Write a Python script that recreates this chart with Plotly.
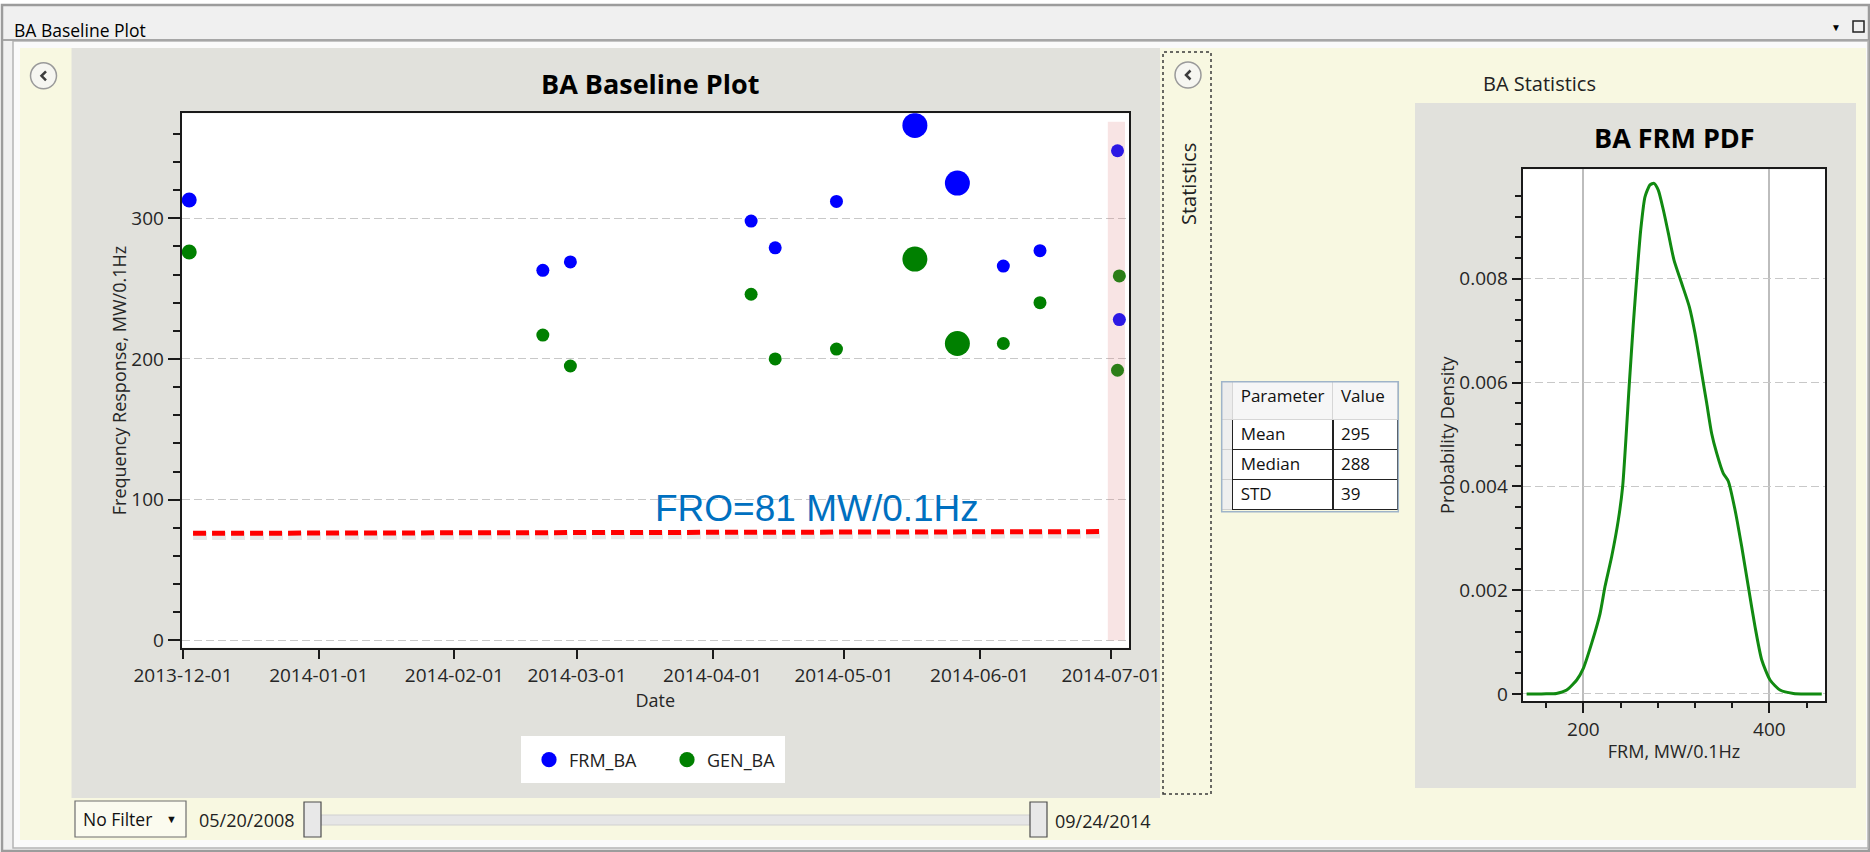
import plotly.graph_objects as go

W, H = 1870, 852


def px(x):
    return x / W


def py(y):
    return 1 - y / H


# ---------------- data ----------------
frm_dates = ["2013-12-02 10:00", "2014-02-21 05:00", "2014-02-27 12:00", "2014-04-09 19:00",
             "2014-04-15 07:00", "2014-04-29 07:00", "2014-05-17 05:00", "2014-05-26 22:00",
             "2014-06-06 10:00", "2014-06-14 19:00", "2014-07-02 12:00", "2014-07-02 22:00"]
frm_values = [313, 263, 269, 298, 279, 312, 366, 325, 266, 277, 348, 228]

gen_dates = ["2013-12-02 10:00", "2014-02-21 05:00", "2014-02-27 12:00", "2014-04-09 19:00",
             "2014-04-15 07:00", "2014-04-29 07:00", "2014-05-17 05:00", "2014-05-26 22:00",
             "2014-06-06 10:00", "2014-06-14 19:00", "2014-07-02 22:00", "2014-07-02 12:00"]
gen_values = [276, 217, 195, 246, 200, 207, 271, 211, 211, 240, 259, 192]

event_sizes = [15, 13, 13, 13, 13, 13, 25, 25, 13, 13, 13, 13]

fro_dates = ["2013-12-03 07:00", "2014-06-28 17:00"]
fro_values = [76.1, 77.3]
fro_label = "FRO=81 MW/0.1Hz"

month_ticks = ["2013-12-01", "2014-01-01", "2014-02-01", "2014-03-01",
               "2014-04-01", "2014-05-01", "2014-06-01", "2014-07-01"]

pdf_x = [139, 150, 160, 171, 182.2, 192.9, 200, 209, 218, 223.3, 230.5, 237.6, 242.3,
         249.5, 253.8, 258.1, 261.7, 266.3, 271.7, 276, 280.6, 286, 291.4, 297.5, 305.8,
         314, 320.1, 327.3, 332.7, 338, 343.4, 350.5, 355.9, 363.1, 370.3, 377.4, 384.6,
         391.8, 400.8, 411.5, 425.9, 440, 456.4]
pdf_y = [0, 0, 0.000003, 0.00001, 0.000077, 0.00027, 0.000495, 0.00098, 0.00155, 0.00207,
         0.00265, 0.00335, 0.0040, 0.00599, 0.00714, 0.00817, 0.00894, 0.00958, 0.00981,
         0.00984, 0.00971, 0.00933, 0.00888, 0.00836, 0.00791, 0.00746, 0.00695, 0.00618,
         0.0056, 0.00502, 0.00464, 0.00425, 0.00410, 0.00355, 0.00284, 0.00207, 0.0013,
         0.00066, 0.00027, 0.000077, 0.00001, 0, 0]

pdf_major_ticks = [0, 0.002, 0.004, 0.006, 0.008]
pdf_major_text = ["0", "0.002", "0.004", "0.006", "0.008"]
pdf_minor_ticks = [round(0.0004 * k, 4) for k in range(1, 25)]

stat_params = ["Mean", "Median", "STD"]
stat_values = ["295", "288", "39"]

start_date_label = "05/20/2008"
end_date_label = "09/24/2014"

FONT = "Segoe UI, Open Sans, sans-serif"
TICKC = "#1a1a1a"

fig = go.Figure()

# ---------------- traces ----------------
fig.add_trace(go.Scatter(
    x=frm_dates, y=frm_values, mode="markers", name="FRM_BA",
    marker=dict(color="#0000FF", size=event_sizes, opacity=1, line=dict(width=0)),
    xaxis="x", yaxis="y"))
fig.add_trace(go.Scatter(
    x=gen_dates, y=gen_values, mode="markers", name="GEN_BA",
    marker=dict(color="#008000", size=event_sizes, opacity=1, line=dict(width=0)),
    xaxis="x", yaxis="y"))
# soft shadow of FRO line
fig.add_trace(go.Scatter(
    x=fro_dates, y=[v - 2.0 for v in fro_values], mode="lines", showlegend=False,
    line=dict(color="rgba(0,0,0,0.09)", width=8, dash="14px,5px"),
    xaxis="x", yaxis="y"))
fig.add_trace(go.Scatter(
    x=fro_dates, y=fro_values, mode="lines", showlegend=False,
    line=dict(color="#FF0000", width=5, dash="13px,6px"),
    xaxis="x", yaxis="y"))
# PDF
fig.add_trace(go.Scatter(
    x=pdf_x, y=pdf_y, mode="lines", showlegend=False,
    line=dict(color="#118A11", width=3, shape="spline", smoothing=0.6),
    xaxis="x2", yaxis="y2"))

# statistics table
fig.add_trace(go.Table(
    domain=dict(x=[px(1221.7), px(1398.3)], y=[py(540), py(381.7)]),
    columnwidth=[11, 100.6, 65],
    header=dict(values=["", "Parameter", "Value"], height=38,
                fill_color=["#ECECEC", "#F6F6F6", "#F6F6F6"],
                line=dict(color="#D6D6D6", width=1),
                align="left", font=dict(family=FONT, size=17, color="#111")),
    cells=dict(values=[["", "", ""], stat_params, stat_values], height=30,
               fill_color=["#EFEFEF", "#FFFFFF", "#FFFFFF"],
               line=dict(color=["#D0D0D0", "#222222", "#222222"], width=1.5),
               align="left", font=dict(family=FONT, size=17, color="#111")),
))

# ---------------- shapes ----------------
shapes = []


def rect(x0, y0, x1, y1, fill=None, line_color=None, lw=0, dash=None, layer="below"):
    d = dict(type="rect", xref="paper", yref="paper",
             x0=px(x0), x1=px(x1), y0=py(y1), y1=py(y0), layer=layer,
             line=dict(width=lw, color=line_color or "rgba(0,0,0,0)"))
    if dash:
        d["line"]["dash"] = dash
    if fill:
        d["fillcolor"] = fill
    shapes.append(d)


rect(2, 5, 1869, 851, fill="#F0F0F0", line_color="#9C9C9C", lw=2.5)
rect(13, 41, 1868, 848, fill="#FAFAFA", line_color="#B4B4B4", lw=1.5)
shapes.append(dict(type="line", xref="paper", yref="paper", x0=px(3), x1=px(1868),
                   y0=py(40), y1=py(40), line=dict(color="#A6A6A6", width=2), layer="below"))
rect(20, 48, 1866, 840, fill="#F8F8E1")
rect(71.5, 48, 1160, 798, fill="#E1E1DC")
rect(181.5, 113.3, 1129, 647.7, fill="#FFFFFF")
rect(1163, 52, 1211, 794, line_color="#3A3A3A", lw=1.5, dash="dot")
rect(1415, 103, 1856, 788, fill="#E1E1DC")
rect(1522.7, 169.3, 1825.3, 701, fill="#FFFFFF")
rect(521, 736, 785, 783, fill="#FFFFFF")
# bottom filter controls
rect(75, 801, 186, 837, fill="#FBFBEF", line_color="#6E6E6E", lw=1.2)
rect(321, 815, 1030, 825, fill="#E6E6E6", line_color="#D0D0D0", lw=1)
rect(304, 802, 321, 837, fill="#E8E8E8", line_color="#4D4D4D", lw=1.2)
rect(1030, 802, 1047, 837, fill="#E8E8E8", line_color="#4D4D4D", lw=1.2)
# window maximize icon
rect(1853, 21, 1864, 32, line_color="#222222", lw=1.5)

# collapse buttons
for cx, cy in [(43.5, 75.8), (1188, 75)]:
    shapes.append(dict(type="circle", xref="paper", yref="paper",
                       x0=px(cx - 13), x1=px(cx + 13), y0=py(cy + 13), y1=py(cy - 13),
                       fillcolor="#F6F6F1", line=dict(color="#9A9A9A", width=1.5), layer="below"))
    shapes.append(dict(type="path", xref="paper", yref="paper", layer="below",
                       path=f"M {px(cx + 2.5)},{py(cy - 4.5)} L {px(cx - 2)},{py(cy)} L {px(cx + 2.5)},{py(cy + 4.5)}",
                       line=dict(color="#3C3C3C", width=2.5)))

# highlighted band (data coordinates)
shapes.append(dict(type="rect", xref="x", yref="y", x0="2014-06-30 07:00", x1="2014-07-04 05:00",
                   y0=0, y1=368.6, fillcolor="rgba(220,120,120,0.2)", line=dict(width=0),
                   layer="above"))
# table outer border
rect(1221.7, 381.7, 1398.3, 511.7, line_color="#9FB4C9", lw=1.5, layer="above")

# ---------------- annotations ----------------
ann = []


def text(x, y, s, size, xanchor="center", bold=False, color="#000000", angle=0, family=FONT):
    ann.append(dict(x=px(x), y=py(y), xref="paper", yref="paper", text=s, showarrow=False,
                    xanchor=xanchor, yanchor="middle", textangle=angle,
                    font=dict(family=family, size=size, color=color,
                              weight="bold" if bold else "normal")))


text(12, 30, "BA Baseline Plot", 17.5, xanchor="left")
text(1836, 27, "▼", 10)
text(650, 83, "BA Baseline Plot", 27, bold=True)
text(1188, 184, "Statistics", 20, angle=-90, color="#222")
text(1539, 83, "BA Statistics", 20, color="#222")
text(1674, 137, "BA FRM PDF", 27, bold=True)
text(81, 819, "No Filter", 17.5, xanchor="left", color="#111")
text(171, 818, "▼", 11, color="#111")
text(197, 820, start_date_label, 18, xanchor="left", color="#222")
text(1053, 820.5, end_date_label, 18, xanchor="left", color="#222")

ann.append(dict(x="2014-04-24 19:00", y=93.4, xref="x", yref="y", text=fro_label,
                showarrow=False, xanchor="center", yanchor="middle",
                font=dict(family="Liberation Sans, Arial, sans-serif", size=37, color="#0070C0")))

# ---------------- layout ----------------
axis_common = dict(ticks="outside", tickcolor=TICKC, tickwidth=2, showline=True,
                   linecolor=TICKC, linewidth=1.5, mirror=True, zeroline=False,
                   automargin=False,
                   tickfont=dict(family=FONT, size=19, color="#262626"))

fig.update_layout(
    template="none",
    width=W, height=H, autosize=False,
    margin=dict(l=0, r=0, t=0, b=0, pad=0, autoexpand=False),
    paper_bgcolor="#FFFFFF", plot_bgcolor="rgba(0,0,0,0)",
    font=dict(family=FONT, color="#262626"),
    hovermode=False,
    showlegend=True,
    legend=dict(orientation="h", x=px(529), y=py(760), xanchor="left", yanchor="middle",
                bgcolor="rgba(0,0,0,0)", borderwidth=0,
                font=dict(family=FONT, size=18, color="#222"),
                entrywidth=93, itemsizing="trace"),
    xaxis=dict(domain=[px(181.5), px(1129)], anchor="y", type="date",
               range=["2013-11-30 15:45", "2014-07-05 03:00"],
               tickvals=month_ticks, ticktext=month_ticks, ticklen=10, showgrid=False,
               title=dict(text="Date", standoff=7, font=dict(family=FONT, size=18, color="#262626")),
               **axis_common),
    yaxis=dict(domain=[py(647.7), py(113.3)], anchor="x", range=[-5.2, 374.6],
               tick0=0, dtick=100, ticklen=12, showgrid=True, gridcolor="#C8C8C8",
               griddash="8px,4px", gridwidth=1,
               minor=dict(dtick=20, tick0=0, ticks="outside", ticklen=7, tickwidth=1.5,
                          tickcolor=TICKC, showgrid=False),
               title=dict(text="Frequency Response, MW/0.1Hz", standoff=0,
                          font=dict(family=FONT, size=18, color="#262626")),
               **axis_common),
    xaxis2=dict(domain=[px(1522.7), px(1825.3)], anchor="y2", range=[134.8, 460.2],
                tick0=0, dtick=200, ticklen=10.7, showgrid=True, gridcolor="#BDBDBD",
                gridwidth=1.5,
                minor=dict(dtick=40, tick0=0, ticks="outside", ticklen=5.7, tickwidth=1.5,
                           tickcolor=TICKC, showgrid=False),
                title=dict(text="FRM, MW/0.1Hz", standoff=4, font=dict(family=FONT, size=18, color="#262626")),
                **axis_common),
    yaxis2=dict(domain=[py(701), py(169.3)], anchor="x2", range=[-0.000135, 0.01011],
                tickmode="array", tickvals=pdf_major_ticks, ticktext=pdf_major_text,
                ticklen=9.4, showgrid=True, gridcolor="#C8C8C8", griddash="8px,4px", gridwidth=1,
                minor=dict(tickmode="array", tickvals=pdf_minor_ticks, ticks="outside",
                           ticklen=5.7, tickwidth=1.5, tickcolor=TICKC, showgrid=False),
                title=dict(text="Probability Density", standoff=0, font=dict(family=FONT, size=18, color="#262626")),
                **axis_common),
    shapes=shapes,
    annotations=ann,
)

fig.write_html("out.html", include_plotlyjs=True, full_html=True,
               config={"displayModeBar": False},
               post_script="document.body.style.margin='0';document.body.style.overflow='hidden';")
